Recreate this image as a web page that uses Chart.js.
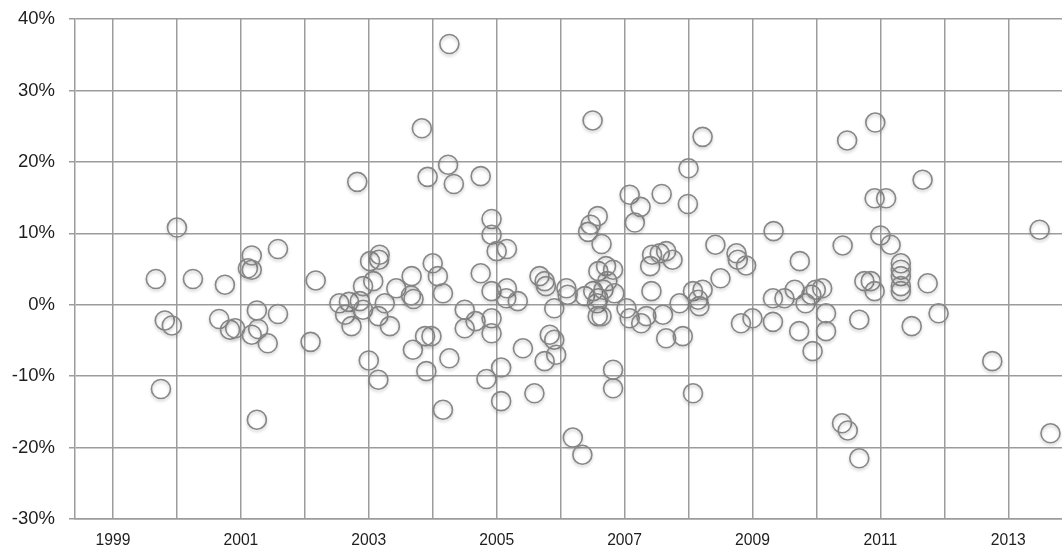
<!DOCTYPE html>
<html lang="en">
  <head>
    <meta charset="UTF-8" />
    <title>Returns by year</title>
    <style>
      * {
        margin: 0;
        padding: 0;
        box-sizing: border-box;
      }
      body {
        background: #fff;
      }
      .chartBox {
        width: 1062px;
        height: 547px;
      }
    </style>
  </head>
  <body>
    <div class="chartBox">
      <canvas id="myChart"></canvas>
    </div>

    <script src="https://cdn.jsdelivr.net/npm/chart.js"></script>

    <script>
      // decimal year of each observation
      const years = [
        1999.67, 1999.75, 1999.81, 1999.92, 2000.0, 2000.25, 2000.75, 2000.66, 2000.83, 2000.91,
        2001.11, 2001.17, 2001.17, 2001.25, 2001.17, 2001.27, 2001.25, 2001.42, 2001.58, 2001.58,
        2002.09, 2002.17, 2002.54, 2002.69, 2002.63, 2002.73, 2002.82, 2002.86, 2002.91, 2002.91,
        2003.0, 2003.02, 2003.07, 2003.15, 2003.15, 2003.16, 2003.17, 2003.25, 2003.33, 2003.43,
        2003.67, 2003.66, 2003.7, 2003.69, 2003.83, 2003.88, 2003.9, 2003.92, 2003.98, 2004.0,
        2004.08, 2004.16, 2004.16, 2004.24, 2004.26, 2004.26, 2004.33, 2004.5, 2004.5, 2004.67,
        2004.75, 2004.75, 2004.84, 2004.92, 2004.92, 2004.92, 2004.92, 2004.92, 2005.0, 2005.07,
        2005.07, 2005.16, 2005.16, 2005.15, 2005.33, 2005.41, 2005.59, 2005.67, 2005.75, 2005.77,
        2005.75, 2005.83, 2005.9, 2005.9, 2005.93, 2006.09, 2006.11, 2006.19, 2006.34, 2006.38,
        2006.43, 2006.47, 2006.5, 2006.51, 2006.57, 2006.58, 2006.58, 2006.59, 2006.59, 2006.64,
        2006.64, 2006.67, 2006.71, 2006.73, 2006.82, 2006.82, 2006.82, 2006.84, 2007.03, 2007.08,
        2007.08, 2007.16, 2007.25, 2007.26, 2007.34, 2007.4, 2007.42, 2007.43, 2007.55, 2007.58,
        2007.6, 2007.65, 2007.65, 2007.75, 2007.86, 2007.91, 2008.0, 2007.99, 2008.07, 2008.07,
        2008.15, 2008.17, 2008.22, 2008.22, 2008.42, 2008.5, 2008.75, 2008.77, 2008.82, 2008.9,
        2009.0, 2009.32, 2009.32, 2009.33, 2009.5, 2009.66, 2009.73, 2009.74, 2009.83, 2009.92,
        2009.94, 2009.99, 2010.09, 2010.15, 2010.15, 2010.4, 2010.41, 2010.48, 2010.49, 2010.67,
        2010.67, 2010.75, 2010.85, 2010.91, 2010.91, 2010.92, 2011.0, 2011.09, 2011.16, 2011.32,
        2011.32, 2011.32, 2011.32, 2011.32, 2011.49, 2011.66, 2011.74, 2011.91, 2012.75, 2013.49,
        2013.66,
      ];

      // return in percent, same order as years
      const returns = [
        3.6, -11.8, -2.2, -2.9, 10.8, 3.6, 2.8, -2.0, -3.5, -3.3,
        5.1, 4.9, 6.9, -0.8, -4.2, -3.4, -16.1, -5.4, 7.8, -1.3,
        -5.2, 3.4, 0.2, 0.4, -1.4, -3.0, 17.2, 0.5, 2.6, -0.7,
        -7.8, 6.1, 3.3, -10.5, -1.6, 6.3, 7.0, 0.2, -3.0, 2.3,
        4.0, 1.3, 0.8, -6.3, 24.7, -4.4, -9.3, 17.9, -4.4, 5.8,
        4.0, 1.6, -14.7, 19.6, 36.5, -7.5, 16.9, -0.7, -3.3, -2.3,
        18.0, 4.4, -10.4, 12.0, 9.8, 1.9, -1.9, -4.0, 7.5, -8.8,
        -13.5, 7.8, 2.3, 0.9, 0.5, -6.1, -12.4, 4.0, 3.3, 2.6,
        -7.9, -4.2, -4.9, -0.5, -7.0, 2.3, 1.4, -18.6, -21.0, 1.2,
        10.2, 11.2, 25.8, 1.9, 0.2, 12.4, -1.6, 0.9, 4.7, 8.5,
        -1.6, 2.1, 5.4, 3.3, 4.9, -9.1, -11.7, 1.6, -0.5, -1.9,
        15.4, 11.5, 13.7, -2.6, -1.6, 5.4, 1.9, 7.0, 7.2, 15.5,
        -1.4, -4.7, 7.5, 6.3, 0.2, -4.4, 19.1, 14.1, 1.9, -12.4,
        0.7, -0.2, 2.1, 23.5, 8.4, 3.7, 7.2, 6.3, -2.6, 5.5,
        -1.9, -2.4, 0.9, 10.3, 0.9, 2.1, -3.7, 6.1, 0.2, 1.4,
        -6.5, 2.1, 2.3, -1.2, -3.7, -16.6, 8.3, 23.0, -17.6, -2.1,
        -21.5, 3.3, 3.3, 1.9, 14.9, 25.5, 9.7, 14.9, 8.4, 5.8,
        4.9, 4.0, 2.6, 1.9, -3.0, 17.5, 3.0, -1.2, -7.9, 10.5,
        -18.0,
      ];

      const gridYears = [
        1999, 2000, 2001, 2002, 2003, 2004, 2005, 2006, 2007, 2008, 2009, 2010, 2011, 2012, 2013,
      ];
      const labelYears = [1999, 2001, 2003, 2005, 2007, 2009, 2011, 2013];

      const gridColor = "#9c9c9c";
      const fontFamily = "'Liberation Sans', Arial, Helvetica, sans-serif";

      const ctx = document.getElementById("myChart");

      const data = {
        datasets: [
          {
            data: years.map((y, i) => ({ x: y, y: returns[i] })),
            pointRadius: 9.5,
            pointHoverRadius: 9.5,
            borderWidth: 1.6,
            borderColor: "#878787",
            backgroundColor: "rgba(0,0,0,0)",
            clip: false,
          },
        ],
      };

      // soft drop shadow under the rings
      const ringShadow = {
        id: "ringShadow",
        beforeDatasetsDraw(chart) {
          const { ctx } = chart;
          ctx.save();
          ctx.shadowColor = "rgba(0, 0, 0, 0.22)";
          ctx.shadowBlur = 3;
          ctx.shadowOffsetX = 0;
          ctx.shadowOffsetY = 2;
        },
        afterDatasetsDraw(chart) {
          chart.ctx.restore();
        },
      };

      const config = {
        type: "scatter",
        data: data,
        options: {
          responsive: true,
          maintainAspectRatio: false,
          animation: false,
          layout: {
            autoPadding: false,
            padding: { top: 19, right: 0, bottom: 0, left: 0 },
          },
          plugins: {
            legend: { display: false },
            tooltip: { enabled: false },
          },
          scales: {
            x: {
              type: "linear",
              min: 1998.406,
              max: 2013.84,
              afterBuildTicks(scale) {
                scale.ticks = gridYears.map((v) => ({ value: v }));
              },
              afterFit(scale) {
                scale.height = 28;
                scale.paddingLeft = 0;
                scale.paddingRight = 0;
              },
              grid: {
                color: gridColor,
                lineWidth: 1.5,
                drawTicks: false,
              },
              border: { color: gridColor, width: 1.5 },
              ticks: {
                autoSkip: false,
                maxRotation: 0,
                padding: 12,
                color: "#1e1e1e",
                font: { family: fontFamily, size: 15.7 },
                callback: (v) => (labelYears.includes(v) ? String(v) : ""),
              },
            },
            y: {
              min: -30,
              max: 40,
              afterFit(scale) {
                scale.width = 75;
                scale.paddingTop = 0;
                scale.paddingBottom = 0;
              },
              grid: {
                color: gridColor,
                lineWidth: 1.5,
                tickLength: 6,
              },
              border: { color: gridColor, width: 1.5 },
              ticks: {
                stepSize: 10,
                padding: 14,
                color: "#1e1e1e",
                font: { family: fontFamily, size: 18.5 },
                callback: (v) => v + "%",
              },
            },
          },
        },
        plugins: [ringShadow],
      };

      const myChart = new Chart(ctx, config);
    </script>
  </body>
</html>
